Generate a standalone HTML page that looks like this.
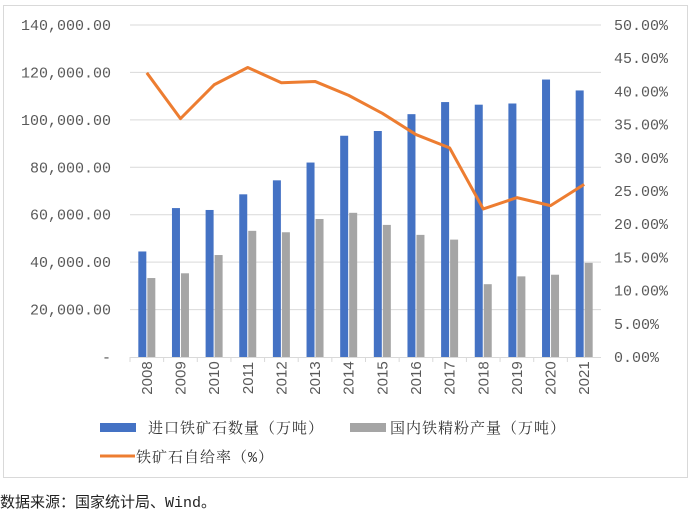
<!DOCTYPE html>
<html><head><meta charset="utf-8"><style>
body{margin:0;background:#fff;width:700px;height:517px;overflow:hidden;font-family:"Liberation Mono","Noto Sans CJK SC",monospace;}
svg text{font-family:"Liberation Mono","Noto Sans CJK SC",monospace;}
svg text.yr{font-family:"Liberation Sans","Noto Sans CJK SC",sans-serif;}
svg text.lg{font-family:"Liberation Mono","Noto Serif CJK SC",serif;}
</style></head><body>
<svg id="chart" width="700" height="517" xmlns="http://www.w3.org/2000/svg">
<rect x="3.5" y="5.5" width="684" height="472" fill="#fff" stroke="#d9d9d9"/>
<g id="grid"></g><g id="bars"></g><g id="line"></g><g id="axes"></g>
<g>
<rect x="100" y="423" width="36" height="9" fill="#4472c4"/>
<text class="lg" x="148" y="433" font-size="15" letter-spacing="1" fill="#333">进口铁矿石数量（万吨）</text>
<rect x="350" y="423" width="36" height="9" fill="#a5a5a5"/>
<text class="lg" x="390" y="433" font-size="15" letter-spacing="1" fill="#333">国内铁精粉产量（万吨）</text>
<line x1="100" y1="456" x2="135" y2="456" stroke="#ed7d31" stroke-width="3"/>
<text class="lg" x="136" y="462" font-size="15" letter-spacing="1" fill="#333">铁矿石自给率（%）</text>
</g>
<text x="0" y="507" font-size="15" fill="#222">数据来源：国家统计局、Wind。</text>
</svg>
<script>
const years=["2008","2009","2010","2011","2012","2013","2014","2015","2016","2017","2018","2019","2020","2021"];
const importVals=[44500,62800,62000,68600,74500,82000,93300,95300,102400,107500,106400,106900,117000,112400];
const domesticVals=[33300,35300,43000,53200,52600,58200,60800,55700,51500,49500,30700,34000,34700,39700];
const ratioVals=[42.8,35.9,41.0,43.6,41.3,41.5,39.4,36.7,33.5,31.5,22.3,24.0,22.8,26.0];
const leftTicks=[0,20000,40000,60000,80000,100000,120000,140000];
const leftTickLabels=["-","20,000.00","40,000.00","60,000.00","80,000.00","100,000.00","120,000.00","140,000.00"];
const rightTicks=[0,5,10,15,20,25,30,35,40,45,50];
const rightTickLabels=["0.00%","5.00%","10.00%","15.00%","20.00%","25.00%","30.00%","35.00%","40.00%","45.00%","50.00%"];
const NS="http://www.w3.org/2000/svg";
const X0=130,X1=601,Y0=357,Y1=25;
const band=(X1-X0)/years.length;
const yL=v=>Y0-(v/140000)*(Y0-Y1);
const yR=v=>Y0-(v/50)*(Y0-Y1);
const xC=i=>X0+band*(i+0.5);
function mk(tag,attrs,parent){const e=document.createElementNS(NS,tag);for(const k in attrs)e.setAttribute(k,attrs[k]);document.getElementById(parent).appendChild(e);return e;}
leftTicks.forEach((t,i)=>{
  if(t>0){const g=mk("line",{x1:X0,x2:X1,y1:yL(t),y2:yL(t),stroke:"#d9d9d9","stroke-width":1},"grid");
  
  }
  const tx=mk("text",{x:111,y:yL(t)+5,"font-size":15,fill:"#595959","text-anchor":"end"},"axes");
  tx.textContent=leftTickLabels[i];
  
  
});
rightTicks.forEach((t,i)=>{
  const tx=mk("text",{x:614,y:yR(t)+5,"font-size":15,fill:"#595959"},"axes");
  tx.textContent=rightTickLabels[i];
  
  
});
const ax=mk("line",{x1:X0,x2:X1,y1:Y0+0.5,y2:Y0+0.5,stroke:"#d9d9d9"},"axes");


years.forEach((y,i)=>{
  const cx=xC(i);
  const b1=mk("rect",{x:cx-8.5,y:yL(importVals[i]),width:8,height:Y0-yL(importVals[i]),fill:"#4472c4"},"bars");
  
  
  const b2=mk("rect",{x:cx+0.5,y:yL(domesticVals[i]),width:8,height:Y0-yL(domesticVals[i]),fill:"#a5a5a5"},"bars");
  
  
  const tk=mk("line",{x1:X0+band*i,x2:X0+band*i,y1:Y0,y2:Y0+5,stroke:"#d9d9d9"},"axes");
  
  
  const tx=mk("text",{x:0,y:0,"font-size":15,fill:"#595959","text-anchor":"middle",transform:`translate(${cx+5},378) rotate(-90)`,"class":"yr"},"axes");
  tx.textContent=y;
  
  
});
const pts=ratioVals.map((v,i)=>xC(i)+","+yR(v)).join(" ");
const pl=mk("polyline",{points:pts,fill:"none",stroke:"#ed7d31","stroke-width":3,"stroke-linejoin":"round"},"line");


</script>
</body></html>
